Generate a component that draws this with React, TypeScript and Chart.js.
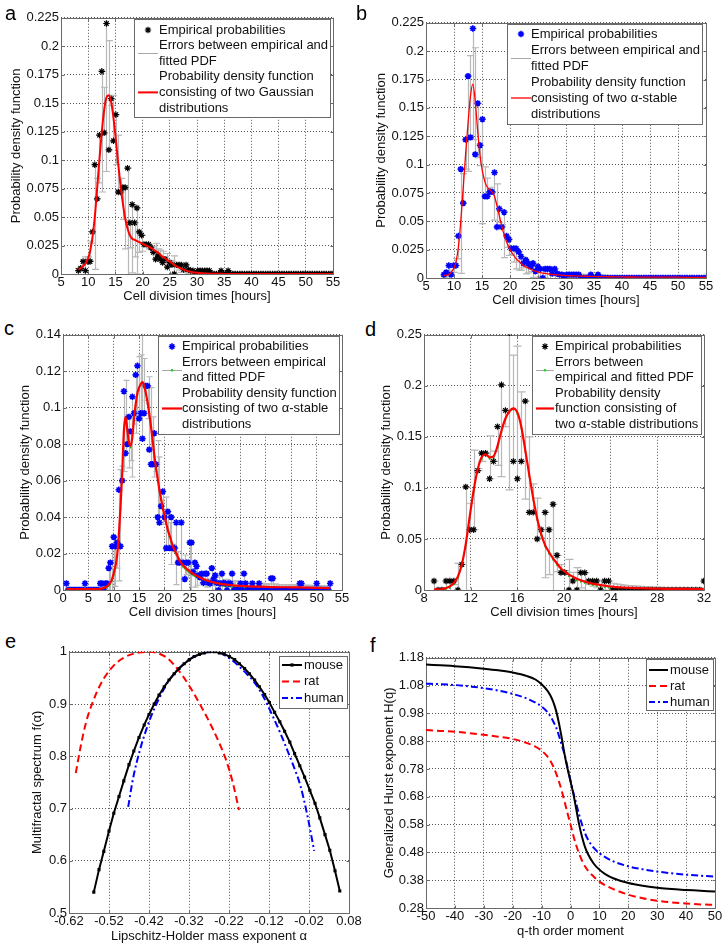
import React, { useEffect, useRef } from "react";
import { Chart, registerables } from "chart.js";
Chart.register(...registerables);

const FONT = "'Liberation Sans', Arial, Helvetica, sans-serif";
const TEXT = "#111111";
const BOX = "#6a6a6a";
const GRID = "#555555";
const ERR = "#b8b8b8";

// ---------------- Panels a & b: shared empirical data ----------------
const abX = [
  8.2, 8.63, 9.06, 9.49, 9.92, 10.35, 10.78, 11.21, 11.64, 12.07,
  12.5, 12.93, 13.36, 13.79, 14.22, 14.65, 15.08, 15.51, 15.94, 16.37,
  16.8, 17.23, 17.66, 18.09, 18.52, 18.95, 19.38, 19.81, 20.24, 20.67,
  21.1, 21.53, 21.96, 22.39, 22.82, 23.25, 23.68, 24.11, 24.54, 24.97,
  25.4, 25.83, 26.26, 26.69, 27.12, 27.55, 27.98, 28.41, 28.84, 29.27,
  29.7, 30.13, 30.56, 30.99, 31.42, 31.85, 32.28, 32.71, 33.14, 33.57,
  34.0, 34.43, 34.86, 35.29, 35.72, 36.15, 36.58, 37.01, 37.44, 37.87,
  38.3, 38.73, 39.16, 39.59, 40.02, 40.45, 40.88, 41.31, 41.74, 42.17,
  42.6, 43.03, 43.46, 43.89, 44.32, 44.75, 45.18, 45.61, 46.04, 46.47,
  46.9, 47.33, 47.76, 48.19, 48.62, 49.05, 49.48, 49.91, 50.34, 50.77,
  51.2, 51.63, 52.06, 52.49, 52.92, 53.35, 53.78, 54.21, 54.64, 55.0,
];
const abEmp = [
  0.003, 0.005, 0.011, 0.003, 0.011, 0.011, 0.037, 0.096, 0.066, 0.122,
  0.178, 0.124, 0.22, 0.109, 0.154, 0.117, 0.14, 0.072, 0.072, 0.076,
  0.076, 0.093, 0.045, 0.061, 0.045, 0.058, 0.037, 0.034, 0.026, 0.026,
  0.026, 0.023, 0.019, 0.013, 0.016, 0.013, 0.01, 0.013, 0.006, 0.01,
  0.008, 0, 0.008, 0.008, 0.008, 0.004, 0.008, 0.004, 0.003, 0.003,
  0, 0.003, 0.003, 0.003, 0.003, 0.003, 0.003, 0, 0, 0,
  0, 0.003, 0, 0, 0.003, 0, 0, 0, 0, 0,
  0, 0, 0, 0, 0, 0, 0, 0, 0, 0,
  0, 0, 0, 0, 0, 0, 0, 0, 0, 0,
  0, 0, 0, 0, 0, 0, 0, 0, 0, 0,
  0, 0, 0, 0, 0, 0, 0, 0, 0, 0,
];
const aFit = [
  0.004, 0.005, 0.007, 0.009, 0.013, 0.02, 0.032, 0.05, 0.075, 0.101,
  0.125, 0.144, 0.155, 0.157, 0.151, 0.137, 0.118, 0.097, 0.078, 0.062,
  0.049, 0.04, 0.034, 0.031, 0.03, 0.029, 0.028, 0.027, 0.026, 0.025,
  0.024, 0.023, 0.0215, 0.02, 0.019, 0.017, 0.015, 0.014, 0.012, 0.011,
  0.0095, 0.008, 0.0068, 0.0057, 0.0047, 0.0038, 0.003, 0.0024, 0.0019, 0.0015,
  0.0012, 0.001, 0.0008, 0.0006, 0.0005, 0.0004, 0.0003, 0.0003, 0.0002, 0.0002,
  0.0002, 0.0002, 0.0001, 0.0001, 0.0001, 0.0001, 0.0001, 0, 0, 0,
  0, 0, 0, 0, 0, 0, 0, 0, 0, 0,
  0, 0, 0, 0, 0, 0, 0, 0, 0, 0,
  0, 0, 0, 0, 0, 0, 0, 0, 0, 0,
  0, 0, 0, 0, 0, 0, 0, 0, 0, 0,
];
const bFit = [
  0.002, 0.0025, 0.003, 0.005, 0.008, 0.014, 0.027, 0.05, 0.079, 0.109,
  0.136, 0.16, 0.171, 0.156, 0.13, 0.108, 0.094, 0.085, 0.08, 0.078,
  0.076, 0.072, 0.064, 0.055, 0.046, 0.038, 0.032, 0.027, 0.023, 0.02,
  0.017, 0.015, 0.013, 0.011, 0.0098, 0.0088, 0.0078, 0.0068, 0.006, 0.0053,
  0.0047, 0.0043, 0.004, 0.0037, 0.0034, 0.0032, 0.003, 0.0028, 0.0026, 0.0024,
  0.0022, 0.0021, 0.002, 0.0019, 0.0018, 0.0018, 0.0017, 0.0016, 0.0016, 0.0015,
  0.0015, 0.0014, 0.0014, 0.0013, 0.0013, 0.0012, 0.0012, 0.0012, 0.0011, 0.0011,
  0.0011, 0.001, 0.001, 0.001, 0.001, 0.0009, 0.0009, 0.0009, 0.0009, 0.0009,
  0.0008, 0.0008, 0.0008, 0.0008, 0.0008, 0.0008, 0.0008, 0.0008, 0.0008, 0.0008,
  0.0007, 0.0007, 0.0007, 0.0007, 0.0007, 0.0007, 0.0007, 0.0007, 0.0007, 0.0007,
  0.0006, 0.0006, 0.0006, 0.0006, 0.0006, 0.0006, 0.0006, 0.0006, 0.0006, 0.0006,
];

// ---------------- Panel c ----------------
const cX = [
  0.67, 1, 1.33, 1.67, 2, 2.33, 2.67, 3, 3.33, 3.67,
  4, 4.33, 4.67, 5, 5.33, 5.67, 6, 6.33, 6.67, 7,
  7.33, 7.67, 8, 8.33, 8.67, 9, 9.33, 9.67, 10, 10.33,
  10.67, 11, 11.33, 11.67, 12, 12.33, 12.67, 13, 13.33, 13.67,
  14, 14.33, 14.67, 15, 15.33, 15.67, 16, 16.33, 16.67, 17,
  17.33, 17.67, 18, 18.33, 18.67, 19, 19.33, 19.67, 20, 20.33,
  20.67, 21, 21.33, 21.67, 22, 22.33, 22.67, 23, 23.33, 23.67,
  24, 24.33, 24.67, 25, 25.33, 25.67, 26, 26.33, 26.67, 27,
  27.33, 27.67, 28, 28.33, 28.67, 29, 29.33, 29.67, 30, 30.33,
  30.67, 31, 31.33, 31.67, 32, 32.33, 32.67, 33, 33.33, 33.67,
  34, 34.33, 34.67, 35, 35.33, 35.67, 36, 36.33, 36.67, 37,
  37.33, 37.67, 38, 38.33, 38.67, 39, 39.33, 39.67, 40, 40.33,
  40.67, 41, 41.33, 41.67, 42, 42.33, 42.67, 43, 43.33, 43.67,
  44, 44.33, 44.67, 45, 45.33, 45.67, 46, 46.33, 46.67, 47,
  47.33, 47.67, 48, 48.33, 48.67, 49, 49.33, 49.67, 50, 50.33,
  50.67, 51, 51.33, 51.67, 52, 52.33, 52.67,
];
const cEmp = [
  0.0036, 0, 0, 0, 0, 0, 0, 0, 0, 0,
  0, 0.0036, 0, 0, 0, 0, 0, 0, 0, 0,
  0.0036, 0.0036, 0, 0.0036, 0.0036, 0.012, 0.015, 0.024, 0.029, 0.024,
  0.026, 0.055, 0.024, 0.06, 0.109, 0.075, 0.08, 0.095, 0.087, 0.106,
  0.097, 0.118, 0.123, 0.094, 0.097, 0.083, 0.097, 0.112, 0.112, 0.077,
  0.069, 0.069, 0.086, 0.069, 0.04, 0.037, 0.046, 0.054, 0.04, 0.023,
  0.043, 0.023, 0.04, 0.023, 0.023, 0.037, 0.015, 0.015, 0.037, 0.015,
  0.006, 0.015, 0.015, 0.026, 0.026, 0.01, 0.015, 0.013, 0.008, 0.007,
  0.009, 0.004, 0.009, 0.009, 0.004, 0.0036, 0.012, 0.006, 0.008, 0.004,
  0, 0.0036, 0.009, 0.004, 0.0036, 0, 0.0036, 0.0036, 0.009, 0,
  0, 0, 0, 0.0036, 0, 0.009, 0.0036, 0, 0, 0,
  0.0036, 0, 0, 0, 0.0036, 0, 0, 0, 0, 0,
  0, 0.0064, 0.0064, 0, 0, 0, 0, 0, 0, 0,
  0, 0, 0, 0, 0, 0, 0, 0, 0.0036, 0.0036,
  0, 0, 0, 0, 0, 0, 0, 0, 0.0036, 0,
  0, 0, 0, 0, 0, 0, 0.0036,
];
const cFit = [
  0.0005, 0.0005, 0.0005, 0.0005, 0.0005, 0.0005, 0.0005, 0.0005, 0.0005, 0.0005,
  0.0005, 0.0005, 0.0005, 0.0005, 0.0005, 0.0005, 0.0005, 0.0005, 0.0005, 0.0005,
  0.0006, 0.0008, 0.001, 0.0015, 0.002, 0.003, 0.004, 0.006, 0.009, 0.013,
  0.019, 0.03, 0.045, 0.064, 0.087, 0.095, 0.088, 0.081, 0.079, 0.084,
  0.094, 0.102, 0.108, 0.111, 0.113, 0.114, 0.112, 0.108, 0.103, 0.097,
  0.09, 0.082, 0.074, 0.067, 0.061, 0.055, 0.05, 0.045, 0.041, 0.037,
  0.033, 0.03, 0.027, 0.024, 0.022, 0.02, 0.018, 0.016, 0.0148, 0.0136,
  0.0126, 0.0117, 0.0109, 0.0102, 0.0095, 0.0089, 0.0083, 0.0078, 0.0073, 0.0068,
  0.0064, 0.006, 0.0056, 0.0053, 0.005, 0.0047, 0.0044, 0.0042, 0.004, 0.0038,
  0.0036, 0.0034, 0.0032, 0.0031, 0.003, 0.0029, 0.0028, 0.0027, 0.0026, 0.0025,
  0.0024, 0.0024, 0.0023, 0.0023, 0.0022, 0.0022, 0.0021, 0.0021, 0.002, 0.002,
  0.002, 0.0019, 0.0019, 0.0019, 0.0018, 0.0018, 0.0018, 0.0017, 0.0017, 0.0017,
  0.0016, 0.0016, 0.0016, 0.0016, 0.0016, 0.0015, 0.0015, 0.0015, 0.0015, 0.0015,
  0.0015, 0.0015, 0.0015, 0.0014, 0.0014, 0.0014, 0.0014, 0.0014, 0.0014, 0.0014,
  0.0013, 0.0013, 0.0013, 0.0013, 0.0013, 0.0012, 0.0012, 0.0012, 0.0012, 0.0012,
  0.0012, 0.0011, 0.0011, 0.0011, 0.001, 0.001, 0.001,
];

// ---------------- Panel d ----------------
const dX = [
  8.86, 9.2, 9.54, 9.88, 10.22, 10.56, 10.9, 11.24, 11.58, 11.92,
  12.26, 12.6, 12.94, 13.28, 13.62, 13.96, 14.3, 14.64, 14.98, 15.32,
  15.66, 16, 16.34, 16.68, 17.02, 17.36, 17.7, 18.04, 18.38, 18.72,
  19.06, 19.4, 19.74, 20.08, 20.42, 20.76, 21.1, 21.44, 21.78, 22.12,
  22.46, 22.8, 23.14, 23.48, 23.82, 24.16, 24.5, 24.84, 25.18, 25.52,
  25.86, 26.2, 26.54, 26.88, 27.22, 27.56, 27.9, 28.24, 28.58, 28.92,
  29.26, 29.6, 29.94, 30.28, 30.62, 30.96, 31.3, 31.64, 31.98,
];
const dEmp = [
  0.0088, 0, 0, 0.0088, 0.0088, 0.0088, 0, 0.025, 0.101, 0.059,
  0.059, 0.117, 0.134, 0.134, 0.109, 0.126, 0.16, 0.201, 0.176, 0.252,
  0.126, 0.109, 0.126, 0.185, 0.076, 0.076, 0.05, 0.059, 0.076, 0.059,
  0.084, 0.034, 0.017, 0.017, 0, 0.0088, 0, 0.017, 0.017, 0.0088,
  0.0088, 0.0088, 0, 0.0088, 0.0088, 0, 0, 0, 0, 0,
  0, 0, 0, 0, 0, 0, 0, 0, 0, 0,
  0, 0, 0, 0, 0, 0, 0, 0, 0.0088,
];
const dFit = [
  0.0005, 0.0007, 0.001, 0.002, 0.0035, 0.007, 0.013, 0.025, 0.045, 0.072,
  0.098, 0.118, 0.13, 0.133, 0.13, 0.131, 0.141, 0.156, 0.168, 0.175,
  0.178, 0.174, 0.16, 0.137, 0.113, 0.09, 0.07, 0.055, 0.044, 0.037,
  0.031, 0.026, 0.021, 0.018, 0.015, 0.013, 0.011, 0.0095, 0.0083, 0.0072,
  0.0063, 0.0055, 0.0048, 0.0042, 0.0037, 0.0033, 0.0029, 0.0026, 0.0024, 0.0022,
  0.002, 0.0019, 0.0018, 0.0016, 0.0015, 0.0014, 0.0013, 0.0013, 0.0012, 0.0012,
  0.0012, 0.0011, 0.0011, 0.0011, 0.0011, 0.001, 0.001, 0.001, 0.001,
];

// ---------------- Panel e: multifractal spectra ----------------
const eMouseA = [
  -0.558, -0.545, -0.533, -0.52, -0.508, -0.495, -0.483, -0.47, -0.458, -0.445,
  -0.432, -0.42, -0.407, -0.395, -0.382, -0.37, -0.357, -0.345, -0.332, -0.319,
  -0.307, -0.294, -0.282, -0.269, -0.257, -0.244, -0.232, -0.219, -0.206, -0.194,
  -0.181, -0.169, -0.156, -0.144, -0.131, -0.119, -0.106, -0.093, -0.081, -0.068,
  -0.056, -0.043, -0.031, -0.018, -0.005, 0.007, 0.02, 0.032, 0.045, 0.057,
];
const eMouseF = [
  0.54, 0.583, 0.618, 0.657, 0.691, 0.723, 0.753, 0.784, 0.81, 0.836,
  0.86, 0.88, 0.9, 0.917, 0.933, 0.946, 0.958, 0.968, 0.977, 0.985,
  0.991, 0.995, 0.998, 1.0, 1.0, 0.998, 0.996, 0.991, 0.985, 0.977,
  0.968, 0.958, 0.946, 0.933, 0.918, 0.903, 0.884, 0.866, 0.848, 0.827,
  0.805, 0.782, 0.76, 0.735, 0.71, 0.682, 0.65, 0.62, 0.581, 0.542,
];
const eRatA = [
  -0.603, -0.59, -0.577, -0.56, -0.543, -0.525, -0.501, -0.48, -0.46, -0.44,
  -0.418, -0.397, -0.376, -0.355, -0.334, -0.313, -0.293, -0.276, -0.259, -0.243,
  -0.226, -0.21, -0.195,
];
const eRatF = [
  0.768, 0.822, 0.866, 0.905, 0.935, 0.958, 0.979, 0.99, 0.996, 0.999,
  1.0, 0.997, 0.989, 0.973, 0.952, 0.927, 0.9, 0.876, 0.85, 0.823,
  0.79, 0.748, 0.697,
];
const eHumanA = [
  -0.472, -0.46, -0.443, -0.426, -0.409, -0.392, -0.376, -0.355, -0.334, -0.313,
  -0.293, -0.276, -0.26, -0.243, -0.226, -0.209, -0.192, -0.176, -0.159, -0.142,
  -0.126, -0.109, -0.092, -0.076, -0.059, -0.042, -0.025, -0.007,
];
const eHumanF = [
  0.703, 0.757, 0.811, 0.853, 0.887, 0.915, 0.938, 0.96, 0.976, 0.988,
  0.995, 0.999, 1.0, 0.998, 0.991, 0.982, 0.97, 0.958, 0.944, 0.925,
  0.902, 0.874, 0.845, 0.815, 0.782, 0.745, 0.69, 0.619,
];

// ---------------- Panel f: generalized Hurst exponents ----------------
const fQ = [
  -50, -45, -40, -35, -30, -25, -20, -15, -12, -10,
  -8, -7, -6, -5, -4, -3, -2, -1, 0, 1,
  2, 3, 4, 5, 6, 8, 10, 12, 15, 20,
  25, 30, 35, 40, 45, 50,
];
const fMouse = [
  1.156, 1.153, 1.15, 1.146, 1.141, 1.135, 1.127, 1.114, 1.101, 1.085,
  1.062, 1.045, 1.022, 0.99, 0.945, 0.89, 0.83, 0.78, 0.735, 0.69,
  0.635, 0.58, 0.535, 0.5, 0.475, 0.44, 0.418, 0.402, 0.386, 0.37,
  0.36, 0.353, 0.348, 0.345, 0.342, 0.339,
];
const fRat = [
  0.92, 0.917, 0.914, 0.909, 0.903, 0.896, 0.888, 0.873, 0.86, 0.846,
  0.825, 0.81, 0.79, 0.765, 0.735, 0.7, 0.66, 0.62, 0.58, 0.54,
  0.505, 0.475, 0.45, 0.43, 0.415, 0.393, 0.375, 0.362, 0.347, 0.328,
  0.315, 0.306, 0.3, 0.296, 0.293, 0.291,
];
const fHuman = [
  1.087, 1.085, 1.082, 1.077, 1.071, 1.062, 1.05, 1.033, 1.018, 1.005,
  0.985, 0.97, 0.952, 0.93, 0.9, 0.865, 0.83, 0.785, 0.74, 0.695,
  0.655, 0.615, 0.58, 0.55, 0.527, 0.497, 0.477, 0.463, 0.447, 0.43,
  0.419, 0.411, 0.405, 0.4, 0.396, 0.393,
];

// ---------------- Tick values ----------------
const abXTicks = [5, 10, 15, 20, 25, 30, 35, 40, 45, 50, 55];
const abYTicks = [0, 0.025, 0.05, 0.075, 0.1, 0.125, 0.15, 0.175, 0.2, 0.225];
const cXTicks = [0, 5, 10, 15, 20, 25, 30, 35, 40, 45, 50, 55];
const cYTicks = [0, 0.02, 0.04, 0.06, 0.08, 0.1, 0.12, 0.14];
const dXTicks = [8, 12, 16, 20, 24, 28, 32];
const dYTicks = [0, 0.05, 0.1, 0.15, 0.2, 0.25];
const eXTicks = [-0.62, -0.52, -0.42, -0.32, -0.22, -0.12, -0.02, 0.08];
const eYTicks = [0.5, 0.6, 0.7, 0.8, 0.9, 1];
const fXTicks = [-50, -40, -30, -20, -10, 0, 10, 20, 30, 40, 50];
const fYTicks = [0.28, 0.38, 0.48, 0.58, 0.68, 0.78, 0.88, 0.98, 1.08, 1.18];

// ---------------- Legend texts ----------------
const aLegend = [["Empirical probabilities"], ["Errors between empirical and", "fitted PDF"], ["Probability density function", "consisting of two Gaussian", "distributions"]];
const bLegend = [["Empirical probabilities"], ["Errors between empirical and", "fitted PDF"], ["Probability density function", "consisting of two α-stable", "distributions"]];
const cLegend = [["Empirical probabilities"], ["Errors between empirical", "and fitted PDF"], ["Probability density function", "consisting of two α-stable", "distributions"]];
const dLegend = [["Empirical probabilities"], ["Errors between", "empirical and fitted PDF"], ["Probability density", "function consisting of", "two α-stable distributions"]];
const speciesLegend = [["mouse"], ["rat"], ["human"]];

// ---------------- helpers ----------------
const pts = (xs: number[], ys: number[]) => xs.map((x, i) => ({ x, y: ys[i] }));
const fmt = (v: number) => String(Math.round(v * 10000) / 10000);

function empSet(xs: number[], ys: number[], color: string, bw: number) {
  return {
    data: pts(xs, ys), showLine: false, pointStyle: "star", pointRadius: 3.2,
    pointBorderWidth: bw, pointBorderColor: color, pointBackgroundColor: color,
    borderColor: color, backgroundColor: color, order: 1,
  };
}
function lineSet(xs: number[], ys: number[], color: string, width: number, dash: number[] = [], extra: any = {}) {
  return {
    data: pts(xs, ys), borderColor: color, backgroundColor: color, borderWidth: width,
    borderDash: dash, pointRadius: 0, cubicInterpolationMode: "monotone", fill: false, order: 0, ...extra,
  };
}

const star = { kind: "star" };
const errSym = (green: boolean) => ({ kind: "err", green });
const lineSym = (color: string, width: number, dash: number[] = [], marker = false) => ({ kind: "line", color, width, dash, marker });

const SPECS: any[] = [
  {
    id: "a", letter: "a", letterPos: [5, 3],
    geo: { left: 9, top: 8, width: 336, height: 296, yw: 52, xh: 30, pt: 9, pr: 12 },
    xTicks: abXTicks, yTicks: abYTicks,
    xTitle: "Cell division times [hours]", yTitle: "Probability density function",
    datasets: [empSet(abX, abEmp, "#000000", 1.2), lineSet(abX, aFit, "#ff0000", 2)],
    err: { xs: abX, emp: abEmp, fit: aFit, cap: 3.5, green: false },
    legend: { texts: aLegend, syms: [{ ...star, color: "#000000", lw: 1.2 }, errSym(false), lineSym("#ff0000", 2)], rowH: 15.6, padTop: 11, padBot: 9, textOff: 25, padR: 2, rightInset: 3, topInset: 1, symL: 4, symR: 24 },
  },
  {
    id: "b", letter: "b", letterPos: [356, 3],
    geo: { left: 374, top: 13, width: 344, height: 295, yw: 52, xh: 30, pt: 9, pr: 12 },
    xTicks: abXTicks, yTicks: abYTicks,
    xTitle: "Cell division times [hours]", yTitle: "Probability density function",
    datasets: [empSet(abX, abEmp, "#0000ff", 1.6), lineSet(abX, bFit, "#ff0000", 1.3)],
    err: { xs: abX, emp: abEmp, fit: bFit, cap: 3.5, green: false },
    legend: { texts: bLegend, syms: [{ ...star, color: "#0000ff", lw: 1.6 }, errSym(false), lineSym("#ff0000", 1.3)], rowH: 16, padTop: 10, padBot: 10, textOff: 24, padR: 2, rightInset: 4, topInset: 1, symL: 4, symR: 24 },
  },
  {
    id: "c", letter: "c", letterPos: [4, 318],
    geo: { left: 18, top: 325, width: 336, height: 295, yw: 45, xh: 30, pt: 9, pr: 12 },
    xTicks: cXTicks, yTicks: cYTicks,
    xTitle: "Cell division times [hours]", yTitle: "Probability density function",
    datasets: [empSet(cX, cEmp, "#0000ff", 1.6), lineSet(cX, cFit, "#ff0000", 2.2)],
    err: { xs: cX, emp: cEmp, fit: cFit, cap: 3, green: true },
    legend: { texts: cLegend, syms: [{ ...star, color: "#0000ff", lw: 1.6 }, errSym(true), lineSym("#ff0000", 2.2)], rowH: 15.5, padTop: 10.5, padBot: 10, textOff: 24, padR: 2, rightInset: 3, topInset: 1, symL: 4, symR: 24 },
  },
  {
    id: "d", letter: "d", letterPos: [365, 319],
    geo: { left: 379, top: 325, width: 337, height: 295, yw: 45, xh: 30, pt: 9, pr: 12 },
    xTicks: dXTicks, yTicks: dYTicks,
    xTitle: "Cell division times [hours]", yTitle: "Probability density function",
    datasets: [empSet(dX, dEmp, "#000000", 1.2), lineSet(dX, dFit, "#ff0000", 2.2)],
    err: { xs: dX, emp: dEmp, fit: dFit, cap: 4, green: true },
    legend: { texts: dLegend, syms: [{ ...star, color: "#000000", lw: 1.2 }, errSym(true), lineSym("#ff0000", 2.2)], rowH: 15.5, padTop: 10.5, padBot: 10, textOff: 23, padR: 3, rightInset: 3, topInset: 1, symL: 4, symR: 22 },
  },
  {
    id: "e", letter: "e", letterPos: [5, 631],
    geo: { left: 30, top: 642, width: 333, height: 302, yw: 39, xh: 31, pt: 9, pr: 14 },
    xTicks: eXTicks, yTicks: eYTicks,
    xTitle: "Lipschitz-Holder mass exponent α", yTitle: "Multifractal spectrum f(α)",
    datasets: [
      lineSet(eMouseA, eMouseF, "#000000", 2, [], { pointRadius: 2.2, pointStyle: "rect", pointBackgroundColor: "#000000", pointBorderColor: "#000000", pointBorderWidth: 0, cubicInterpolationMode: "default", tension: 0 }),
      lineSet(eRatA, eRatF, "#ff0000", 2, [7, 4]),
      lineSet(eHumanA, eHumanF, "#0000ff", 2, [7, 3, 2, 3]),
    ],
    legend: { texts: speciesLegend, syms: [lineSym("#000000", 2, [], true), lineSym("#ff0000", 2, [7, 4]), lineSym("#0000ff", 2, [6, 3, 2, 3])], rowH: 16.5, padTop: 9, padBot: 10, textOff: 25, padR: 3, rightInset: 2, topInset: 4, symL: 3, symR: 23 },
  },
  {
    id: "f", letter: "f", letterPos: [370, 635],
    geo: { left: 382, top: 648, width: 343, height: 291, yw: 44, xh: 31, pt: 9, pr: 10 },
    xTicks: fXTicks, yTicks: fYTicks,
    xTitle: "q-th order moment", yTitle: "Generalized Hurst exponent H(q)",
    datasets: [
      lineSet(fQ, fMouse, "#000000", 2),
      lineSet(fQ, fRat, "#ff0000", 2, [7, 4]),
      lineSet(fQ, fHuman, "#0000ff", 2, [7, 3, 2, 3]),
    ],
    legend: { texts: speciesLegend, syms: [lineSym("#000000", 2), lineSym("#ff0000", 2, [7, 4]), lineSym("#0000ff", 2, [6, 3, 2, 3])], rowH: 16, padTop: 11, padBot: 8, textOff: 24, padR: 3, rightInset: 2, topInset: 1, symL: 3, symR: 22 },
  },
];

function drawStar(ctx: CanvasRenderingContext2D, x: number, y: number, r: number, color: string, lw: number) {
  ctx.save();
  ctx.strokeStyle = color;
  ctx.lineWidth = lw;
  ctx.beginPath();
  ctx.moveTo(x - r, y); ctx.lineTo(x + r, y);
  ctx.moveTo(x, y - r); ctx.lineTo(x, y + r);
  const d = r * Math.SQRT1_2;
  ctx.moveTo(x - d, y - d); ctx.lineTo(x + d, y + d);
  ctx.moveTo(x - d, y + d); ctx.lineTo(x + d, y - d);
  ctx.stroke();
  ctx.restore();
}

function makePlugin(spec: any) {
  return {
    id: "matlab_" + spec.id,
    beforeDatasetsDraw(chart: any) {
      const { ctx, chartArea: ca } = chart;
      const sx = chart.scales.x;
      const sy = chart.scales.y;
      ctx.save();
      // error bars
      if (spec.err) {
        const { xs, emp, fit, cap, green } = spec.err;
        ctx.save();
        ctx.beginPath();
        ctx.rect(ca.left, ca.top - 1, ca.right - ca.left, ca.bottom - ca.top + 1);
        ctx.clip();
        ctx.strokeStyle = ERR;
        ctx.lineWidth = 1.2;
        for (let i = 0; i < xs.length; i++) {
          const e = Math.abs(emp[i] - fit[i]);
          const px = Math.round(sx.getPixelForValue(xs[i])) + 0.5;
          const p1 = sy.getPixelForValue(fit[i] + e);
          const p2 = sy.getPixelForValue(fit[i] - e);
          ctx.beginPath();
          ctx.moveTo(px, p1); ctx.lineTo(px, p2);
          ctx.moveTo(px - cap, p1); ctx.lineTo(px + cap, p1);
          ctx.moveTo(px - cap, p2); ctx.lineTo(px + cap, p2);
          ctx.stroke();
        }
        if (green) {
          ctx.fillStyle = "#22bb22";
          for (let i = 0; i < xs.length; i++) {
            const px = sx.getPixelForValue(xs[i]);
            const py = sy.getPixelForValue(fit[i]);
            ctx.beginPath();
            ctx.arc(px, py + 1.5, 1, 0, Math.PI * 2);
            ctx.fill();
          }
        }
        ctx.restore();
      }
      // axes box and inward ticks
      ctx.strokeStyle = BOX;
      ctx.lineWidth = 1;
      const L = Math.round(ca.left) + 0.5, R = Math.round(ca.right) + 0.5;
      const T = Math.round(ca.top) + 0.5, B = Math.round(ca.bottom) + 0.5;
      ctx.beginPath();
      ctx.rect(L, T, R - L, B - T);
      for (const v of spec.xTicks) {
        const px = Math.round(sx.getPixelForValue(v)) + 0.5;
        ctx.moveTo(px, B); ctx.lineTo(px, B - 3);
        ctx.moveTo(px, T); ctx.lineTo(px, T + 3);
      }
      for (const v of spec.yTicks) {
        const py = Math.round(sy.getPixelForValue(v)) + 0.5;
        ctx.moveTo(L, py); ctx.lineTo(L + 3, py);
        ctx.moveTo(R, py); ctx.lineTo(R - 3, py);
      }
      ctx.stroke();
      ctx.restore();
    },
    afterDatasetsDraw(chart: any) {
      const { ctx, chartArea: ca } = chart;
      const lg = spec.legend;
      ctx.save();
      ctx.font = `13px ${FONT}`;
      let maxW = 0;
      let n = 0;
      for (const lines of lg.texts) for (const t of lines) { maxW = Math.max(maxW, ctx.measureText(t).width); n++; }
      const w = Math.round(lg.textOff + maxW + lg.padR);
      const h = Math.round(lg.padTop + lg.rowH * (n - 1) + lg.padBot);
      const right = Math.round(ca.right - lg.rightInset);
      const top = Math.round(ca.top + lg.topInset);
      const left = right - w;
      ctx.fillStyle = "#ffffff";
      ctx.fillRect(left, top, w, h);
      ctx.strokeStyle = BOX;
      ctx.lineWidth = 1;
      ctx.strokeRect(left + 0.5, top + 0.5, w, h);
      let row = 0;
      lg.texts.forEach((lines: string[], k: number) => {
        const y0 = top + lg.padTop + row * lg.rowH;
        const ys = y0 + ((lines.length - 1) * lg.rowH) / 2;
        const sym = lg.syms[k];
        const x1 = left + lg.symL, x2 = left + lg.symR, xm = (x1 + x2) / 2;
        if (sym.kind === "star") {
          drawStar(ctx, xm, ys, 3.2, sym.color, sym.lw);
        } else if (sym.kind === "err") {
          ctx.save();
          ctx.strokeStyle = "#a8a8a8";
          ctx.lineWidth = 1;
          ctx.beginPath();
          ctx.moveTo(x1, Math.round(ys) + 0.5); ctx.lineTo(x2, Math.round(ys) + 0.5);
          ctx.stroke();
          if (sym.green) {
            ctx.fillStyle = "#22cc22";
            ctx.beginPath(); ctx.arc(xm, ys + 0.5, 1.3, 0, Math.PI * 2); ctx.fill();
          }
          ctx.restore();
        } else {
          ctx.save();
          ctx.strokeStyle = sym.color;
          ctx.lineWidth = sym.width;
          ctx.setLineDash(sym.dash);
          ctx.beginPath();
          ctx.moveTo(x1, ys); ctx.lineTo(x2, ys);
          ctx.stroke();
          if (sym.marker) {
            ctx.fillStyle = sym.color;
            ctx.fillRect(xm - 1.6, ys - 1.6, 3.2, 3.2);
          }
          ctx.restore();
        }
        ctx.fillStyle = TEXT;
        ctx.textBaseline = "middle";
        ctx.textAlign = "left";
        lines.forEach((t, j) => ctx.fillText(t, left + lg.textOff, y0 + j * lg.rowH));
        row += lines.length;
      });
      ctx.restore();
    },
  };
}

function buildConfig(spec: any) {
  const g = spec.geo;
  const font = { family: FONT, size: 13 };
  const axis = (ticks: number[], title: string, isX: boolean) => ({
    type: "linear",
    min: ticks[0],
    max: ticks[ticks.length - 1],
    afterBuildTicks: (s: any) => { s.ticks = ticks.map((v) => ({ value: v })); },
    afterFit: (s: any) => { if (isX) s.height = g.xh; else s.width = g.yw; },
    ticks: {
      autoSkip: false, maxRotation: 0, minRotation: 0, padding: isX ? 1 : 2,
      color: TEXT, font, callback: (v: number) => fmt(v),
    },
    grid: { color: GRID, lineWidth: 1, drawTicks: false },
    border: { display: false, dash: [1, 2] },
    title: { display: true, text: title, color: TEXT, font, padding: 0 },
  });
  return {
    type: "line",
    data: { datasets: spec.datasets },
    options: {
      responsive: false,
      animation: false,
      devicePixelRatio: 1,
      events: [],
      layout: { padding: { top: g.pt, right: g.pr, left: 0, bottom: 0 } },
      plugins: { legend: { display: false }, tooltip: { enabled: false } },
      scales: { x: axis(spec.xTicks, spec.xTitle, true), y: axis(spec.yTicks, spec.yTitle, false) },
    },
    plugins: [makePlugin(spec)],
  };
}

function Panel({ spec }: { spec: any }) {
  const ref = useRef<HTMLCanvasElement>(null);
  useEffect(() => {
    const chart = new Chart(ref.current as HTMLCanvasElement, buildConfig(spec) as any);
    return () => chart.destroy();
  }, [spec]);
  const g = spec.geo;
  return (
    <>
      <canvas
        ref={ref}
        width={g.width}
        height={g.height}
        style={{ position: "absolute", left: g.left, top: g.top, width: g.width, height: g.height, display: "block" }}
      />
      <div
        style={{
          position: "absolute", left: spec.letterPos[0], top: spec.letterPos[1],
          fontFamily: FONT, fontSize: 20, lineHeight: "20px", color: "#000",
        }}
      >
        {spec.letter}
      </div>
    </>
  );
}

export default function App() {
  return (
    <div style={{ position: "absolute", left: 0, top: 0, width: 726, height: 946, background: "#ffffff", overflow: "hidden" }}>
      {SPECS.map((s) => (
        <Panel key={s.id} spec={s} />
      ))}
    </div>
  );
}
